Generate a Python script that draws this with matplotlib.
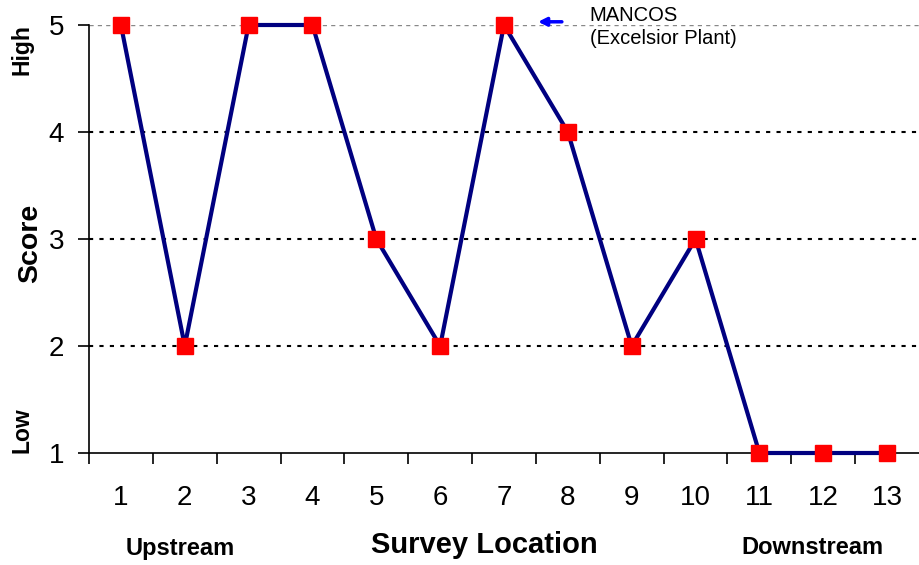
import matplotlib
matplotlib.use("Agg")
import matplotlib.pyplot as plt
from matplotlib.ticker import FixedLocator

plt.rcParams["font.family"] = ["Liberation Sans", "DejaVu Sans"]

locations = list(range(1, 14))
scores = [5, 2, 5, 5, 3, 2, 5, 4, 2, 3, 1, 1, 1]
y_ticks = [1, 2, 3, 4, 5]

fig = plt.figure(figsize=(9.19, 5.65), dpi=100)
ax = fig.add_axes([89 / 919, 112 / 565, 830 / 919, 428 / 565])

for y in [2, 3, 4]:
    ax.axhline(y, color="black", linestyle=(0, (2, 3)), linewidth=1.5, zorder=1)
ax.axhline(5, color="#888888", linestyle=(0, (3, 3)), linewidth=1.0, zorder=1)

ax.plot(locations, scores, color="#000080", linewidth=3.0, marker="s",
        markersize=11.5, markerfacecolor="#ff0000", markeredgecolor="#ff0000",
        zorder=3, clip_on=False)

ax.set_xlim(0.5, 13.5)
ax.set_ylim(1, 5)

ax.set_xticks(locations)
ax.set_xticklabels([str(i) for i in locations], fontsize=20)
ax.xaxis.set_minor_locator(FixedLocator([i + 0.5 for i in range(0, 13)]))
ax.tick_params(axis="x", which="major", length=0, pad=23)
ax.tick_params(axis="x", which="minor", length=8, width=1.2, direction="out")

ax.set_yticks(y_ticks)
ax.set_yticklabels([str(i) for i in y_ticks], fontsize=20)
ax.tick_params(axis="y", length=8, width=1.2, direction="out", pad=10)

for side in ["top", "right"]:
    ax.spines[side].set_visible(False)
for side in ["left", "bottom"]:
    ax.spines[side].set_linewidth(1.2)

# arrow pointing at site 7
ax.annotate("", xy=(7.49, 5.03), xytext=(7.95, 5.03),
            arrowprops=dict(arrowstyle="-|>", color="#0000ff", lw=2.5,
                            mutation_scale=12), annotation_clip=False)
ax.text(8.34, 5.18, "MANCOS\n(Excelsior Plant)", fontsize=14.5,
        ha="left", va="top", linespacing=1.3)

fig.text(30 / 919, 1 - 243 / 565, "Score", rotation=90, fontsize=20.5,
         fontweight="bold", ha="center", va="center")
fig.text(22 / 919, 1 - 50 / 565, "High", rotation=90, fontsize=16.5,
         fontweight="bold", ha="center", va="center")
fig.text(22 / 919, 1 - 430 / 565, "Low", rotation=90, fontsize=16.5,
         fontweight="bold", ha="center", va="center")

fig.text(484 / 919, 1 - 545 / 565, "Survey Location", fontsize=21,
         fontweight="bold", ha="center", va="center")
fig.text(180 / 919, 1 - 548 / 565, "Upstream", fontsize=17,
         fontweight="bold", ha="center", va="center")
fig.text(812 / 919, 1 - 548 / 565, "Downstream", fontsize=17,
         fontweight="bold", ha="center", va="center")

fig.savefig("out.png", dpi=100)
